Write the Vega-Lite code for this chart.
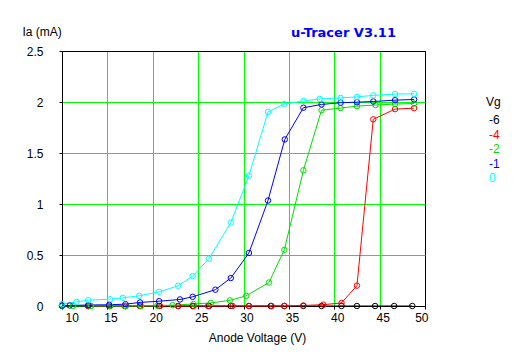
{
  "$schema": "https://vega.github.io/schema/vega-lite/v6.json",
  "width": 363,
  "height": 255,
  "autosize": {"type": "none"},
  "padding": {"left": 62, "top": 51, "right": 105, "bottom": 53},
  "background": "white",
  "config": {
    "view": {"stroke": "black", "strokeWidth": 1, "fill": "white"},
    "font": "Liberation Sans"
  },
  "title": {
    "text": "u-Tracer V3.11",
    "anchor": "start",
    "frame": "group",
    "dx": 229,
    "dy": 19,
    "color": "#0000FF",
    "font": "DejaVu Sans",
    "fontSize": 13,
    "fontWeight": "bold",
    "offset": 4
  },
  "data": {
    "values": [
      {"Vg": "-6", "V": 10.0, "I": 0}, {"Vg": "-6", "V": 12.9, "I": 0}, {"Vg": "-6", "V": 15.2, "I": 0}, {"Vg": "-6", "V": 17.0, "I": 0},
      {"Vg": "-6", "V": 18.6, "I": 0}, {"Vg": "-6", "V": 20.7, "I": 0}, {"Vg": "-6", "V": 22.8, "I": 0}, {"Vg": "-6", "V": 24.4, "I": 0},
      {"Vg": "-6", "V": 26.2, "I": 0}, {"Vg": "-6", "V": 28.6, "I": 0}, {"Vg": "-6", "V": 30.6, "I": 0}, {"Vg": "-6", "V": 33.0, "I": 0},
      {"Vg": "-6", "V": 34.5, "I": 0}, {"Vg": "-6", "V": 36.6, "I": 0}, {"Vg": "-6", "V": 38.6, "I": 0}, {"Vg": "-6", "V": 40.8, "I": 0},
      {"Vg": "-6", "V": 42.5, "I": 0}, {"Vg": "-6", "V": 44.5, "I": 0}, {"Vg": "-6", "V": 46.6, "I": 0}, {"Vg": "-6", "V": 48.6, "I": 0},

      {"Vg": "-4", "V": 12.9, "I": 0}, {"Vg": "-4", "V": 15.3, "I": 0}, {"Vg": "-4", "V": 16.9, "I": 0}, {"Vg": "-4", "V": 18.6, "I": 0},
      {"Vg": "-4", "V": 20.8, "I": 0}, {"Vg": "-4", "V": 22.8, "I": 0}, {"Vg": "-4", "V": 24.5, "I": 0}, {"Vg": "-4", "V": 26.1, "I": 0},
      {"Vg": "-4", "V": 28.8, "I": 0}, {"Vg": "-4", "V": 30.6, "I": 0}, {"Vg": "-4", "V": 33.1, "I": 0}, {"Vg": "-4", "V": 34.5, "I": 0},
      {"Vg": "-4", "V": 36.6, "I": 0.005}, {"Vg": "-4", "V": 38.8, "I": 0.013}, {"Vg": "-4", "V": 40.8, "I": 0.03}, {"Vg": "-4", "V": 42.5, "I": 0.2},
      {"Vg": "-4", "V": 44.3, "I": 1.83}, {"Vg": "-4", "V": 46.7, "I": 1.93}, {"Vg": "-4", "V": 48.8, "I": 1.94},

      {"Vg": "-2", "V": 10.0, "I": 0}, {"Vg": "-2", "V": 11.2, "I": 0}, {"Vg": "-2", "V": 13.2, "I": 0}, {"Vg": "-2", "V": 15.3, "I": 0},
      {"Vg": "-2", "V": 17.0, "I": 0}, {"Vg": "-2", "V": 18.7, "I": 0}, {"Vg": "-2", "V": 20.5, "I": 0.003}, {"Vg": "-2", "V": 22.2, "I": 0.008},
      {"Vg": "-2", "V": 24.5, "I": 0.02}, {"Vg": "-2", "V": 26.4, "I": 0.03}, {"Vg": "-2", "V": 28.5, "I": 0.055}, {"Vg": "-2", "V": 30.3, "I": 0.1},
      {"Vg": "-2", "V": 32.8, "I": 0.23}, {"Vg": "-2", "V": 34.5, "I": 0.55}, {"Vg": "-2", "V": 36.6, "I": 1.33}, {"Vg": "-2", "V": 38.6, "I": 1.92},
      {"Vg": "-2", "V": 40.7, "I": 1.94}, {"Vg": "-2", "V": 42.5, "I": 1.96}, {"Vg": "-2", "V": 44.55, "I": 1.97}, {"Vg": "-2", "V": 46.7, "I": 1.98},
      {"Vg": "-2", "V": 48.8, "I": 1.985},

      {"Vg": "-1", "V": 10.0, "I": 0.005}, {"Vg": "-1", "V": 10.85, "I": 0.005}, {"Vg": "-1", "V": 12.9, "I": 0.01}, {"Vg": "-1", "V": 15.2, "I": 0.012},
      {"Vg": "-1", "V": 17.0, "I": 0.018}, {"Vg": "-1", "V": 18.6, "I": 0.035}, {"Vg": "-1", "V": 20.7, "I": 0.047}, {"Vg": "-1", "V": 23.0, "I": 0.064},
      {"Vg": "-1", "V": 24.4, "I": 0.09}, {"Vg": "-1", "V": 26.9, "I": 0.16}, {"Vg": "-1", "V": 28.6, "I": 0.274}, {"Vg": "-1", "V": 30.6, "I": 0.52},
      {"Vg": "-1", "V": 32.7, "I": 1.034}, {"Vg": "-1", "V": 34.55, "I": 1.633}, {"Vg": "-1", "V": 36.6, "I": 1.944}, {"Vg": "-1", "V": 38.6, "I": 1.976},
      {"Vg": "-1", "V": 40.7, "I": 1.993}, {"Vg": "-1", "V": 42.5, "I": 1.998}, {"Vg": "-1", "V": 44.3, "I": 2.005}, {"Vg": "-1", "V": 46.7, "I": 2.018},
      {"Vg": "-1", "V": 48.8, "I": 2.025},

      {"Vg": "0", "V": 10.0, "I": 0.018}, {"Vg": "0", "V": 11.6, "I": 0.04}, {"Vg": "0", "V": 12.9, "I": 0.057}, {"Vg": "0", "V": 15.3, "I": 0.067},
      {"Vg": "0", "V": 16.7, "I": 0.08}, {"Vg": "0", "V": 18.5, "I": 0.1}, {"Vg": "0", "V": 20.7, "I": 0.139}, {"Vg": "0", "V": 22.8, "I": 0.198},
      {"Vg": "0", "V": 24.4, "I": 0.293}, {"Vg": "0", "V": 26.2, "I": 0.464}, {"Vg": "0", "V": 28.6, "I": 0.818}, {"Vg": "0", "V": 30.6, "I": 1.278},
      {"Vg": "0", "V": 32.7, "I": 1.903}, {"Vg": "0", "V": 34.5, "I": 1.98}, {"Vg": "0", "V": 36.6, "I": 2.01}, {"Vg": "0", "V": 38.4, "I": 2.03},
      {"Vg": "0", "V": 40.7, "I": 2.04}, {"Vg": "0", "V": 42.5, "I": 2.05}, {"Vg": "0", "V": 44.3, "I": 2.065}, {"Vg": "0", "V": 46.7, "I": 2.078},
      {"Vg": "0", "V": 48.8, "I": 2.08}
    ]
  },
  "encoding": {
    "x": {
      "field": "V", "type": "quantitative",
      "scale": {"domain": [10, 50], "nice": false, "zero": false},
      "axis": {
        "values": [10, 15, 20, 25, 30, 35, 40, 45, 50],
        "title": "Anode Voltage (V)",
        "grid": true,
        "gridColor": {"condition": {"test": "datum.value >= 50", "value": "black"}, "value": "#00FF00"},
        "gridWidth": 1,
        "gridOpacity": 1,
        "domainColor": "black",
        "tickColor": "black",
        "tickSize": 3,
        "labelPadding": 3,
        "labelFontSize": 12,
        "labelColor": "black",
        "labelOffset": 3,
        "titleFontSize": 12,
        "titleFontWeight": "normal",
        "titleColor": "black",
        "titleX": 195,
        "titleY": 31,
        "titleBaseline": "middle"
      }
    },
    "y": {
      "field": "I", "type": "quantitative",
      "scale": {"domain": [0, 2.5], "nice": false},
      "axis": {
        "values": [0, 0.5, 1, 1.5, 2, 2.5],
        "format": ".1~f",
        "title": "Ia (mA)",
        "grid": true,
        "gridColor": {"condition": {"test": "datum.value >= 2.5", "value": "black"}, "value": "#00FF00"},
        "gridWidth": 1,
        "gridOpacity": 1,
        "domainColor": "black",
        "tickColor": "black",
        "tickSize": 3,
        "labelPadding": 16,
        "labelFontSize": 12,
        "labelColor": "black",
        "titleFontSize": 12,
        "titleFontWeight": "normal",
        "titleColor": "black",
        "titleAngle": 0,
        "titleAlign": "left",
        "titleBaseline": "middle",
        "titleX": -40,
        "titleY": -20
      }
    },
    "color": {
      "field": "Vg", "type": "nominal",
      "scale": {"domain": ["-6", "-4", "-2", "-1", "0"], "range": ["#000000", "#FF0000", "#00DD00", "#0000FF", "#00FFFF"]},
      "legend": {
        "orient": "none",
        "legendX": 424,
        "legendY": 46,
        "title": "Vg",
        "titleFontSize": 12,
        "titleFontWeight": "normal",
        "titleColor": "black",
        "titlePadding": 5,
        "labelFontSize": 12,
        "labelOffset": -9,
        "symbolSize": 0,
        "symbolOpacity": 0,
        "symbolStrokeWidth": 0,
        "rowPadding": 2.5,
        "encode": {"labels": {"update": {"fill": {"scale": "color", "field": "value"}}}}
      }
    }
  },
  "layer": [
    {"mark": {"type": "line", "strokeWidth": 1}},
    {"mark": {"type": "point", "shape": "circle", "filled": false, "size": 30, "strokeWidth": 1, "opacity": 1}}
  ]
}
